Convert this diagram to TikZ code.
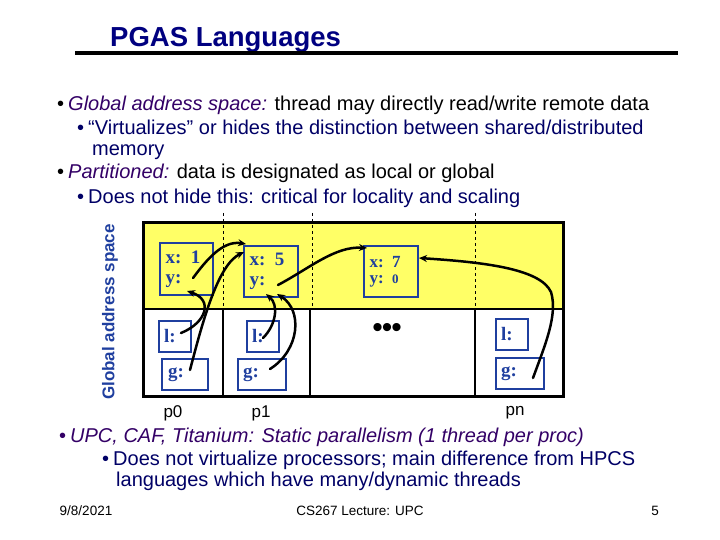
\documentclass[tikz,border=0pt]{standalone}
\usepackage{fontspec}
\setmainfont{Liberation Sans}
\newfontfamily\serifb{Liberation Serif}
\usetikzlibrary{arrows.meta}
\definecolor{navy}{RGB}{0,0,128}
\definecolor{purp}{RGB}{51,0,102}
\definecolor{subnavy}{RGB}{0,0,102}
\definecolor{boxblue}{RGB}{31,63,159}
\definecolor{yel}{RGB}{255,255,102}
\tikzset{
  txt/.style={anchor=base west, inner sep=0pt, font=\fontsize{20}{23}\selectfont},
  foot/.style={anchor=base, inner sep=0pt, font=\fontsize{13.5}{15}\selectfont},
  varbox/.style={draw=boxblue, line width=1.6pt, text=boxblue, font=\serifb\bfseries\fontsize{19}{20}\selectfont, align=left, inner sep=0pt},
  ptr/.style={line width=2.5pt, -{Stealth[length=8pt,width=7pt]}, line cap=round},
  plab/.style={inner sep=0pt, font=\fontsize{17}{19}\selectfont}
}
\begin{document}
\begin{tikzpicture}[x=1pt,y=-1pt]
\useasboundingbox (0,0) rectangle (720,540);
% title
\node[anchor=base west, inner sep=0pt, text=navy, font=\bfseries\fontsize{27.5}{30}\selectfont] (title) at (110,47) {PGAS Languages};
\draw[line width=4pt] (75,53) -- (678,53);
% bullets
\node[txt] (b1) at (57,111) {\textbullet\hspace{4pt}\textcolor{purp}{\textit{Global address space:}} thread may directly read/write remote data};
\node[txt, text=subnavy] (b2) at (77,135) {\textbullet\hspace{4pt}“Virtualizes” or hides the distinction between shared/distributed};
\node[txt, text=subnavy] (b3) at (92,156) {memory};
\node[txt] (b4) at (57,179) {\textbullet\hspace{4pt}\textcolor{purp}{\textit{Partitioned:}} data is designated as local or global};
\node[txt, text=subnavy] (b5) at (77,204) {\textbullet\hspace{4pt}Does not hide this: critical for locality and scaling};
% diagram background
\fill[yel] (143,223) rectangle (563,309);
\foreach \x in {223,312,475} \draw[dashed, line width=0.8pt] (\x,213) -- (\x,309);
\foreach \x in {223,310,475} \draw[line width=2.6pt] (\x,309) -- (\x,396);
\draw[line width=2.6pt] (143,309) -- (563,309);
\draw[line width=3pt] (143,223) rectangle (563,396);
\node[rotate=90, text=boxblue, font=\bfseries\fontsize{17}{19}\selectfont, inner sep=0pt] (gas) at (110,312) {Global address space};
% boxes
\node[varbox, minimum width=53pt, minimum height=52pt, text width=42pt] (x1) at (186.5,269) {x: 1\\y:};
\node[varbox, minimum width=54pt, minimum height=51pt, text width=43pt] (x5) at (271,271.5) {x: 5\\y:};
\node[varbox, minimum width=54pt, minimum height=51pt, text width=43pt, font=\serifb\bfseries\fontsize{17}{16}\selectfont] (x7) at (391,271.5) {x: 7\\y: {\fontsize{13}{13}\selectfont 0}};
\node[varbox, minimum width=32pt, minimum height=31pt, text width=22pt] (l0) at (175,336.5) {l:};
\node[varbox, minimum width=46pt, minimum height=31pt, text width=34pt] (g0) at (185,374.5) {g:};
\node[varbox, minimum width=32pt, minimum height=31pt, text width=22pt] (l1) at (263,336.5) {l:};
\node[varbox, minimum width=48pt, minimum height=31pt, text width=38pt] (g1) at (262,374.5) {g:};
\node[varbox, minimum width=32pt, minimum height=31pt, text width=22pt] (ln) at (512,334.5) {l:};
\node[varbox, minimum width=48pt, minimum height=31pt, text width=38pt] (gn) at (520,373.5) {g:};
\node[inner sep=0pt, font=\fontsize{30}{30}\selectfont] (dots) at (387,330) {\textbullet\hspace{-1pt}\textbullet\hspace{-1pt}\textbullet};
% labels
\node[plab] (p0) at (173,413) {p0};
\node[plab] (p1) at (261,413) {p1};
\node[plab] (pn) at (515,413) {pn};
% pointer tails and heads
\coordinate (t1) at (193,278);
\coordinate (t2) at (181,333);
\coordinate (t3) at (190,370);
\coordinate (t4) at (263,338);
\coordinate (t5) at (270,369);
\coordinate (t6) at (278,285);
\coordinate (t7) at (533,378);
\coordinate (h1) at (246,244);
\coordinate (h2) at (187,291);
\coordinate (h3) at (244,252);
\coordinate (h4) at (266,294);
\coordinate (h5) at (277,294);
\coordinate (h6) at (367,248);
\coordinate (h7) at (419,258);
\draw[ptr] (t1) .. controls (205,262) and (222,240) .. (h1);
\draw[ptr] (t2) .. controls (206,323) and (214,300) .. (h2);
\draw[ptr] (t3) .. controls (203,320) and (218,265) .. (h3);
\draw[ptr] (t4) .. controls (276,325) and (279,305) .. (h4);
\draw[ptr] (t5) .. controls (300,350) and (303,310) .. (h5);
\draw[ptr] (t6) .. controls (310,268) and (335,246) .. (h6);
\draw[ptr] (t7) .. controls (545,345) and (558,315) .. (551,292) .. controls (540,268) and (480,262) .. (h7);
% lower bullets
\node[txt, text=purp] (b6) at (59,442) {\textbullet\hspace{4pt}\textit{UPC, CAF, Titanium: Static parallelism (1 thread per proc)}};
\node[txt, text=subnavy] (b7) at (102,465) {\textbullet\hspace{4pt}Does not virtualize processors; main difference from HPCS};
\node[txt, text=subnavy] (b8) at (116,486) {languages which have many/dynamic threads};
% footer
\node[foot] (date) at (86,515) {9/8/2021};
\node[foot] (lect) at (360,515) {CS267 Lecture: UPC};
\node[foot] (page) at (655,515) {5};
\end{tikzpicture}
\end{document}
